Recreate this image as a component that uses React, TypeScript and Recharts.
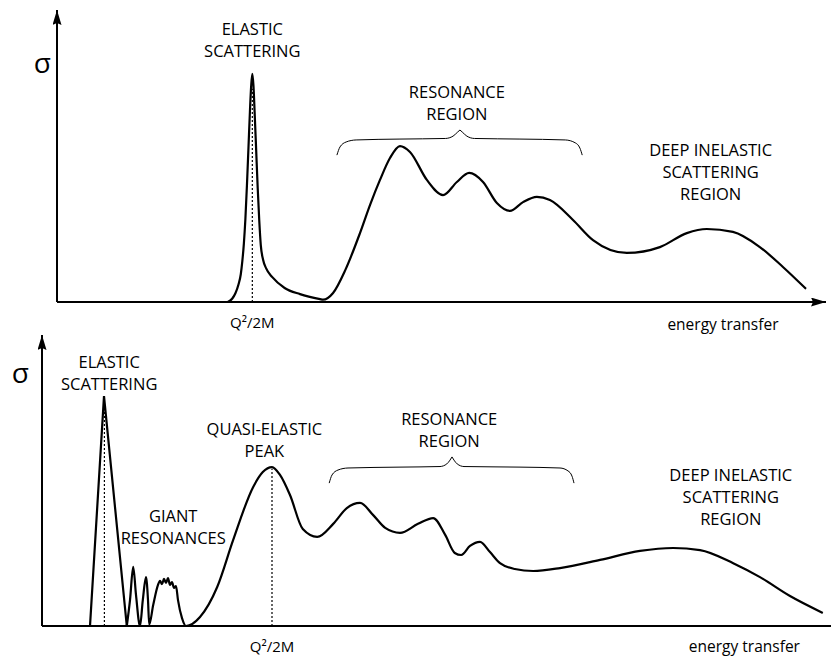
import React from 'react';
import { LineChart, Line, XAxis, YAxis, ReferenceLine, ReferenceDot } from 'recharts';

const FONT = '"Open Sans", "Noto Sans", sans-serif';

// ---------- Top panel: scattering on a nucleon ----------
const topCurveEnergy = [22.2, 22.8, 23.2, 23.6, 23.9, 24.1, 24.3, 24.5, 24.7, 24.9, 25.1, 25.25, 25.4, 25.55, 25.7, 25.9, 26.1, 26.3, 26.5, 26.8, 27.2, 28.0, 29.6, 31.6, 34.2, 34.6, 35.9, 37.5, 39.4, 40.7, 42.0, 43.3, 44.6, 45.9, 48.1, 50.2, 52.0, 53.6, 55.4, 57.2, 58.9, 60.6, 62.4, 64.1, 67.1, 69.7, 74.1, 78.4, 81.9, 84.5, 87.9, 91.4, 94.4, 97.4];
const topCurveSigma = [0, 1.2, 3.0, 6.0, 9.5, 14.0, 20.0, 28.5, 40.0, 53.0, 66.0, 74.0, 78.1, 74.0, 65.0, 52.0, 39.0, 28.0, 19.5, 14.5, 11.5, 8.5, 4.8, 2.7, 1.0, 0.8, 3.1, 11.0, 23.6, 33.2, 41.8, 49.3, 53.4, 51.4, 41.8, 36.6, 41.1, 44.2, 41.1, 33.9, 31.2, 34.2, 36.0, 34.9, 28.1, 21.2, 16.8, 18.8, 23.6, 25.0, 24.0, 18.8, 12.0, 4.5];

const topBraceLeftEnergy = [36.4, 36.8, 37.6, 38.9, 44.6, 50.5, 51.5, 52.1, 52.4];
const topBraceLeftSigma = [50.3, 53.1, 54.8, 55.5, 55.8, 56.0, 56.8, 58.2, 58.9];
const topBraceRightEnergy = [52.4, 52.7, 53.3, 54.3, 60.2, 66.1, 67.4, 68.0, 68.3];
const topBraceRightSigma = [58.9, 58.2, 56.8, 56.0, 55.8, 55.5, 54.5, 52.7, 50.3];

const topQEnergy = 25.4;
const topQPeak = 73;

const topNotes = [
  { e: 25.4, s: 91.4, lines: ['ELASTIC', 'SCATTERING'] },
  { e: 52.0, s: 70.0, lines: ['RESONANCE', 'REGION'] },
  { e: 85.0, s: 50.1, lines: ['DEEP INELASTIC', 'SCATTERING', 'REGION'] },
];
const topSigma = { e: -1.9, s: 78.4 };
const topEnergyLabel = { e: 86.6, s: -9.6 };

// ---------- Bottom panel: scattering on a nucleus ----------
const botElasticEnergy = [6.0, 7.75, 10.6];
const botElasticSigma = [0, 79.0, 0];

const botCurveEnergy = [10.6, 11.0, 11.4, 11.75, 12.25, 12.6, 13.0, 13.25, 13.4, 13.9, 14.5, 14.75, 15.0, 15.25, 15.5, 15.75, 16.0, 16.25, 16.5, 16.75, 17.0, 17.5, 18.0, 19.75, 21.9, 23.9, 26.4, 27.6, 28.75, 29.75, 31.0, 32.6, 34.4, 36.4, 38.1, 39.75, 41.4, 42.9, 44.75, 47.0, 48.9, 50.4, 51.6, 52.4, 53.5, 54.75, 56.0, 57.25, 59.1, 61.4, 64.75, 69.75, 74.75, 78.9, 82.25, 86.4, 89.75, 93.5, 97.6];
const botCurveSigma = [0, 8.9, 20.3, 10.7, 0, 8.9, 16.8, 8.9, 0.5, 7.2, 14.1, 15.5, 14.4, 16.2, 14.8, 16.5, 14.1, 15.1, 13.1, 13.7, 8.9, 2.7, 0, 3.1, 13.4, 29.6, 47.8, 52.9, 54.6, 51.9, 45.0, 33.3, 30.6, 35.1, 40.5, 42.3, 38.1, 33.7, 32.0, 35.1, 37.1, 31.3, 25.1, 24.4, 27.5, 28.9, 25.4, 21.6, 19.6, 18.9, 19.9, 22.7, 25.8, 26.8, 26.1, 21.6, 16.8, 10.3, 4.5];

const botBraceLeftEnergy = [35.9, 36.25, 37.0, 38.25, 44.75, 49.75, 50.6, 51.0, 51.25];
const botBraceLeftSigma = [49.1, 51.9, 53.6, 54.3, 54.6, 54.8, 55.7, 57.0, 58.1];
const botBraceRightEnergy = [51.25, 51.5, 51.9, 52.75, 59.75, 64.75, 65.75, 66.25, 66.5];
const botBraceRightSigma = [58.1, 57.0, 55.7, 54.8, 54.6, 54.3, 53.3, 51.5, 49.1];

const botElasticLine = { e: 7.8, top: 76.6 };
const botQEnergy = 28.75;
const botQPeak = 54.0;

const botNotes = [
  { e: 8.4, s: 88.7, lines: ['ELASTIC', 'SCATTERING'] },
  { e: 16.4, s: 35.7, lines: ['GIANT', 'RESONANCES'] },
  { e: 27.8, s: 65.6, lines: ['QUASI-ELASTIC', 'PEAK'] },
  { e: 50.9, s: 69.0, lines: ['RESONANCE', 'REGION'] },
  { e: 86.1, s: 49.9, lines: ['DEEP INELASTIC', 'SCATTERING', 'REGION'] },
];
const botSigma = { e: -2.7, s: 83.5 };
const botEnergyLabel = { e: 87.8, s: -8.9 };

const zip = (es: number[], ss: number[]) => es.map((e, i) => ({ e, s: ss[i] }));

const topCurve = zip(topCurveEnergy, topCurveSigma);
const topBraceL = zip(topBraceLeftEnergy, topBraceLeftSigma);
const topBraceR = zip(topBraceRightEnergy, topBraceRightSigma);
const botElastic = zip(botElasticEnergy, botElasticSigma);
const botCurve = zip(botCurveEnergy, botCurveSigma);
const botBraceL = zip(botBraceLeftEnergy, botBraceLeftSigma);
const botBraceR = zip(botBraceRightEnergy, botBraceRightSigma);

const LINE_GAP = 22;

const textShape = (lines: string[], size: number) => (p: any) => (
  <text x={p.cx} y={p.cy} textAnchor="middle" fontFamily={FONT} fontSize={size} fill="#000">
    {lines.map((l, i) => (
      <tspan key={i} x={p.cx} dy={i === 0 ? 0 : LINE_GAP}>
        {l}
      </tspan>
    ))}
  </text>
);

const qTick = (p: any) => (
  <text x={p.x} y={p.y + 26} textAnchor="middle" fontFamily={FONT} fontSize={15} fill="#000">
    Q²/2M
  </text>
);

const ArrowDefs = ({ id }: { id: string }) => (
  <defs>
    <marker
      id={id}
      viewBox="0 0 15 9"
      refX={15}
      refY={4.5}
      markerWidth={15}
      markerHeight={9}
      markerUnits="userSpaceOnUse"
      orient="auto-start-reverse"
    >
      <path d="M0,0 L15,4.5 L0,9 L2,4.5 Z" fill="#000" />
    </marker>
  </defs>
);

const curveProps = {
  stroke: '#000',
  strokeWidth: 2.2,
  dot: false,
  activeDot: false,
  isAnimationActive: false,
  dataKey: 's',
} as const;

const braceProps = {
  stroke: '#000',
  strokeWidth: 1,
  dot: false,
  activeDot: false,
  isAnimationActive: false,
  dataKey: 's',
  type: 'monotone',
} as const;

export default function App() {
  return (
    <div style={{ position: 'absolute', left: 0, top: 0, width: 831, height: 658, overflow: 'hidden', background: '#fff' }}>
      <div style={{ position: 'absolute', left: 0, top: 0 }}>
        <LineChart width={831} height={335} margin={{ top: 10, right: 5, bottom: 32, left: 56 }}>
          <ArrowDefs id="arrowTop" />
          <XAxis
            type="number"
            dataKey="e"
            domain={[0, 100]}
            allowDataOverflow
            height={1}
            tickSize={0}
            tickMargin={0}
            tickLine={false}
            ticks={[topQEnergy]}
            tick={qTick}
            axisLine={{ stroke: '#000', strokeWidth: 2, markerEnd: 'url(#arrowTop)' } as any}
          />
          <YAxis
            type="number"
            domain={[0, 100]}
            allowDataOverflow
            width={1}
            tick={false}
            tickLine={false}
            axisLine={{ stroke: '#000', strokeWidth: 2, markerStart: 'url(#arrowTop)' } as any}
          />
          <ReferenceLine
            segment={[{ x: topQEnergy, y: 0 }, { x: topQEnergy, y: topQPeak }]}
            stroke="#000"
            strokeWidth={1.2}
            strokeDasharray="2 2"
            ifOverflow="visible"
          />
          <Line data={topCurve} type="monotone" {...curveProps} />
          <Line data={topBraceL} {...braceProps} />
          <Line data={topBraceR} {...braceProps} />
          {topNotes.map((n, i) => (
            <ReferenceDot key={i} x={n.e} y={n.s} r={1} ifOverflow="visible" shape={textShape(n.lines, 16.5)} />
          ))}
          <ReferenceDot x={topSigma.e} y={topSigma.s} r={1} ifOverflow="visible" shape={textShape(['σ'], 28)} />
          <ReferenceDot x={topEnergyLabel.e} y={topEnergyLabel.s} r={1} ifOverflow="visible" shape={textShape(['energy transfer'], 15.5)} />
        </LineChart>
      </div>
      <div style={{ position: 'absolute', left: 0, top: 330 }}>
        <LineChart width={860} height={328} margin={{ top: 5, right: 18, bottom: 31, left: 41 }}>
          <ArrowDefs id="arrowBot" />
          <XAxis
            type="number"
            dataKey="e"
            domain={[0, 100]}
            allowDataOverflow
            height={1}
            tickSize={0}
            tickMargin={0}
            tickLine={false}
            ticks={[botQEnergy]}
            tick={qTick}
            axisLine={{ stroke: '#000', strokeWidth: 2 }}
          />
          <YAxis
            type="number"
            domain={[0, 100]}
            allowDataOverflow
            width={1}
            tick={false}
            tickLine={false}
            axisLine={{ stroke: '#000', strokeWidth: 2, markerStart: 'url(#arrowBot)' } as any}
          />
          <ReferenceLine
            segment={[{ x: botElasticLine.e, y: 0 }, { x: botElasticLine.e, y: botElasticLine.top }]}
            stroke="#000"
            strokeWidth={1.2}
            strokeDasharray="2 2"
            ifOverflow="visible"
          />
          <ReferenceLine
            segment={[{ x: botQEnergy, y: 0 }, { x: botQEnergy, y: botQPeak }]}
            stroke="#000"
            strokeWidth={1.2}
            strokeDasharray="2 2"
            ifOverflow="visible"
          />
          <Line data={botElastic} type="linear" {...curveProps} />
          <Line data={botCurve} type="monotone" {...curveProps} />
          <Line data={botBraceL} {...braceProps} />
          <Line data={botBraceR} {...braceProps} />
          {botNotes.map((n, i) => (
            <ReferenceDot key={i} x={n.e} y={n.s} r={1} ifOverflow="visible" shape={textShape(n.lines, 16.5)} />
          ))}
          <ReferenceDot x={botSigma.e} y={botSigma.s} r={1} ifOverflow="visible" shape={textShape(['σ'], 28)} />
          <ReferenceDot x={botEnergyLabel.e} y={botEnergyLabel.s} r={1} ifOverflow="visible" shape={textShape(['energy transfer'], 15.5)} />
        </LineChart>
      </div>
    </div>
  );
}
